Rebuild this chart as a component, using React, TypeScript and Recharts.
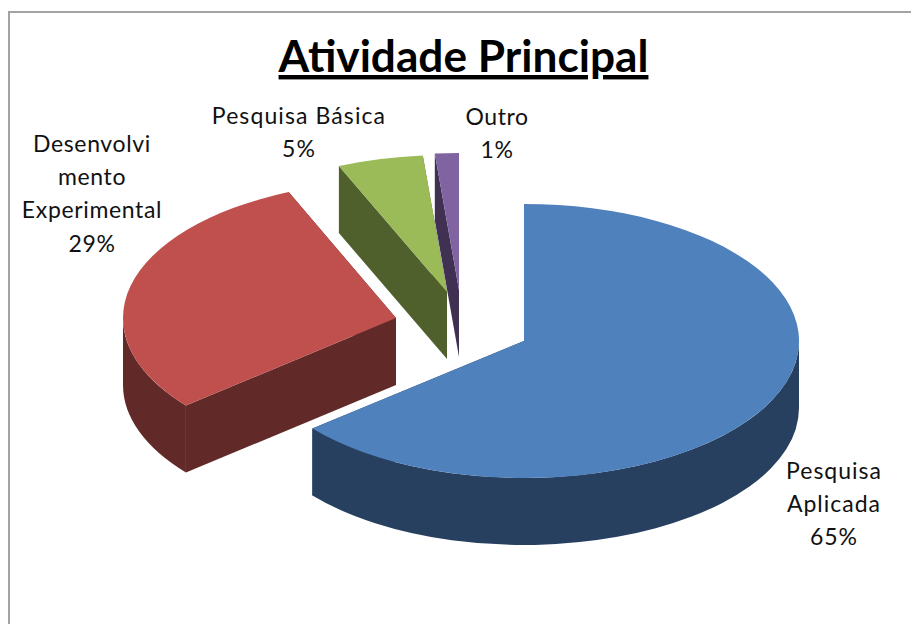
import { PieChart, Pie } from "recharts";

const categories = ["Pesquisa Aplicada", "Desenvolvimento Experimental", "Pesquisa Básica", "Outro"];
const shares = [64.6, 29.0, 5.0, 1.4];
const labelLines = [
  ["Pesquisa", "Aplicada"],
  ["Desenvolvi", "mento", "Experimental"],
  ["Pesquisa Básica"],
  ["Outro"],
];

const chartData = categories.map((name, i) => ({ name, value: shares[i] }));

// look of each slice: exploded offset, colours, where its label sits
const sliceStyle: Record<string, any> = {
  "Pesquisa Aplicada": { dx: 0, dy: 0, rx: 275, top: "#4f81bd", side: "#284060", labelX: 834, labelY: 479, spacing: 1.0 },
  "Desenvolvimento Experimental": { dx: -128, dy: -23, rx: 273, top: "#c0504d", side: "#612a28", labelX: 92, labelY: 152, spacing: 0.65 },
  "Pesquisa Básica": { dx: -77, dy: -49, rx: 275, top: "#9bbb59", side: "#4f602d", labelX: 299, labelY: 124, spacing: 1.1 },
  Outro: { dx: -65, dy: -51, rx: 275, top: "#8064a2", side: "#403152", labelX: 497, labelY: 125, spacing: 0.6 },
};

const CX = 524;
const CY = 341;
const RX = 275;
const RY = 137;
const DEPTH = 67;

// angle clockwise from 12 o'clock; front of the pie is pulled a bit by the perspective
const warp = (recAngle: number) => {
  const t = 90 - recAngle;
  const s = Math.sin((t * Math.PI) / 360);
  return t - 2.8 * s * s;
};

function Slice3D(props: any) {
  const style = sliceStyle[props.name ?? props.payload?.name];
  const x0 = props.cx + style.dx;
  const y0 = props.cy + style.dy;
  const t0 = warp(props.startAngle);
  const t1 = warp(props.endAngle);

  const pt = (t: number, down = 0) => {
    const r = (t * Math.PI) / 180;
    return [x0 + style.rx * Math.sin(r), y0 - RY * Math.cos(r) + down];
  };
  const arc = (to: number[], large: boolean, sweep: number) =>
    `A${style.rx} ${RY} 0 ${large ? 1 : 0} ${sweep} ${to[0]} ${to[1]}`;
  const cutFace = (t: number) => {
    const a = pt(t);
    const b = pt(t, DEPTH);
    return `M${x0} ${y0}L${a[0]} ${a[1]}L${b[0]} ${b[1]}L${x0} ${y0 + DEPTH}Z`;
  };

  const topPath = `M${x0} ${y0}L${pt(t0)[0]} ${pt(t0)[1]}${arc(pt(t1), t1 - t0 > 180, 1)}Z`;

  // only the part of the rim between 3 and 9 o'clock faces the viewer
  const rimFrom = Math.max(t0, 90);
  const rimTo = Math.min(t1, 270);
  const rimPath =
    rimTo > rimFrom
      ? `M${pt(rimFrom)[0]} ${pt(rimFrom)[1]}${arc(pt(rimTo), false, 1)}L${pt(rimTo, DEPTH)[0]} ${pt(rimTo, DEPTH)[1]}${arc(pt(rimFrom, DEPTH), false, 0)}Z`
      : null;

  return (
    <g>
      <path d={cutFace(t0)} fill={style.side} />
      <path d={cutFace(t1)} fill={style.side} />
      {rimPath && <path d={rimPath} fill={style.side} />}
      <path d={topPath} fill={style.top} />
    </g>
  );
}

function SliceLabel(props: any) {
  const style = sliceStyle[props.name ?? props.payload?.name];
  const lines = [...labelLines[props.index], `${Math.round(props.value)}%`];
  return (
    <text
      x={style.labelX}
      y={style.labelY}
      textAnchor="middle"
      fontFamily="Lato, sans-serif"
      fontSize={23}
      letterSpacing={style.spacing}
      fill="#111"
    >
      {lines.map((line, i) => (
        <tspan key={i} x={style.labelX} y={style.labelY + i * 33.2}>
          {line}
        </tspan>
      ))}
    </text>
  );
}

export default function App() {
  return (
    <div style={{ position: "absolute", left: 0, top: 0, width: 911, height: 624, overflow: "hidden", background: "#fff" }}>
      <div
        style={{
          position: "absolute",
          left: 8,
          top: 11,
          width: 1000,
          height: 800,
          border: "2px solid #a3a3a3",
        }}
      />
      <PieChart width={911} height={624} margin={{ top: 0, right: 0, bottom: 0, left: 0 }} style={{ position: "absolute", left: 0, top: 0 }}>
        <text
          x={463.5}
          y={72}
          textAnchor="middle"
          fontFamily="Lato, sans-serif"
          fontWeight={700}
          fontSize={44.2}
          textDecoration="underline"
          fill="#000"
        >
          Atividade Principal
        </text>
        <Pie
          data={chartData}
          dataKey="value"
          nameKey="name"
          cx={CX}
          cy={CY}
          outerRadius={RX}
          startAngle={90}
          endAngle={-270}
          stroke="none"
          shape={Slice3D}
          label={SliceLabel}
          labelLine={false}
          isAnimationActive={false}
        />
      </PieChart>
    </div>
  );
}
